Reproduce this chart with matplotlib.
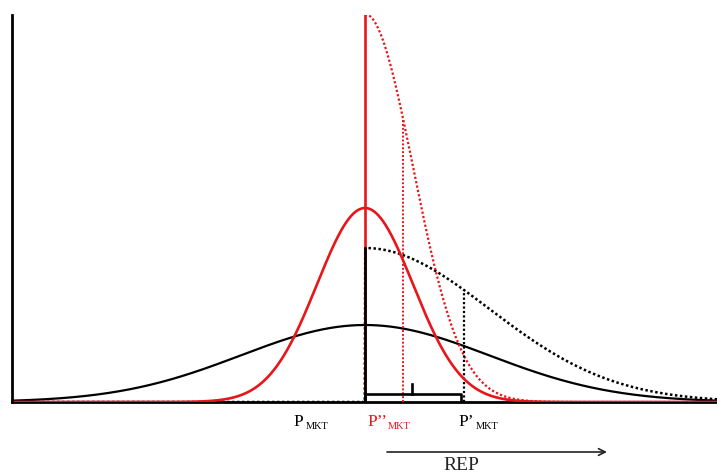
import numpy as np
import matplotlib
matplotlib.use("Agg")
import matplotlib.pyplot as plt

# ---- values (pixel-like units) ----
x_range = [12, 717]
y_top = 387
p_mkt = 365                 # market price (centre of both distributions)
sigma_black = 124           # wide distribution
sigma_red = 48              # narrow distribution
peak_black = 77
peak_red = 194
labels = ["P", "P’’", "P’"]
label_sub = "MKT"
axis_label = "REP"

RED = "#e8151b"
BLACK = "#000000"

W, H = 717, 474
fig = plt.figure(figsize=(W / 100, H / 100), dpi=100)
ax_left, ax_bottom = 12, 402
ax = fig.add_axes([ax_left / W, (H - ax_bottom) / H, (W - ax_left) / W, y_top / H])
ax.set_xlim(*x_range)
ax.set_ylim(0, y_top)
ax.axis("off")

x = np.linspace(x_range[0], x_range[1], 1500)
black = peak_black * np.exp(-((x - p_mkt) ** 2) / (2 * sigma_black ** 2))
red = peak_red * np.exp(-((x - p_mkt) ** 2) / (2 * sigma_red ** 2))
black_tr = np.where(x >= p_mkt, 2 * black, 0.0)
red_tr = np.where(x >= p_mkt, 2 * red, np.nan)

mean_black_tr = p_mkt + sigma_black * np.sqrt(2 / np.pi)
mean_red_tr = p_mkt + sigma_red * np.sqrt(2 / np.pi)

dot = (0, (1, 1))
# curves
ax.plot(x, black, color=BLACK, lw=1.6, zorder=3)
ax.plot(x, red, color=RED, lw=1.9, zorder=4)
ax.plot(x, black_tr, color=BLACK, lw=1.8, ls=dot, zorder=3)
ax.plot(x, red_tr, color=RED, lw=1.6, ls=dot, zorder=3)

# vertical lines
ax.plot([p_mkt, p_mkt], [0, y_top], color=RED, lw=1.9, zorder=5)
ax.plot([p_mkt, p_mkt], [0, 2 * peak_black], color=BLACK, lw=1.9, zorder=6)
yb = 2 * peak_black * np.exp(-((mean_black_tr - p_mkt) ** 2) / (2 * sigma_black ** 2))
ax.plot([mean_black_tr, mean_black_tr], [0, yb], color=BLACK, lw=1.6, ls=dot, zorder=3)
yr = 2 * peak_red * np.exp(-((mean_red_tr - p_mkt) ** 2) / (2 * sigma_red ** 2))
ax.plot([mean_red_tr, mean_red_tr], [0, yr], color=RED, lw=1.4, ls=dot, zorder=3)

# bracket between the two prices
bh = 8
mid = (p_mkt + mean_black_tr) / 2 - 2
ax.plot([p_mkt, p_mkt, mean_black_tr - 3, mean_black_tr - 3],
        [0, bh, bh, 0], color=BLACK, lw=1.9, zorder=7, solid_joinstyle="round")
ax.plot([mid, mid], [bh, bh + 10], color=BLACK, lw=1.9, zorder=7)

# axes lines
ax.plot([x_range[0], x_range[0]], [0, y_top], color=BLACK, lw=2.0, zorder=8, clip_on=False)
ax.plot([x_range[0], x_range[1]], [0, 0], color=BLACK, lw=2.0, zorder=2, clip_on=False)

# labels under the axis
serif = ["Liberation Serif", "DejaVu Serif"]
label_pos = [(293, BLACK), (367, RED), (458, BLACK)]
sub_off = [13, 21, 18]
for (xp, col), lab, so in zip(label_pos, labels, sub_off):
    ax.text(xp, -24, lab, fontsize=12.5, family=serif, color=col, ha="left", va="baseline")
    ax.text(xp + so, -27, label_sub, fontsize=7.5, family=serif, color=col,
            ha="left", va="baseline")

# REP arrow
ax.annotate("", xy=(607, -50), xytext=(387, -50), annotation_clip=False,
            arrowprops=dict(arrowstyle="->", color="#222222", lw=1.2,
                            mutation_scale=12, shrinkA=0, shrinkB=0))
ax.text(461, -68, axis_label, fontsize=14, family=serif, color="#222222",
        ha="center", va="baseline")

fig.savefig("out.png", dpi=100, facecolor="white")
